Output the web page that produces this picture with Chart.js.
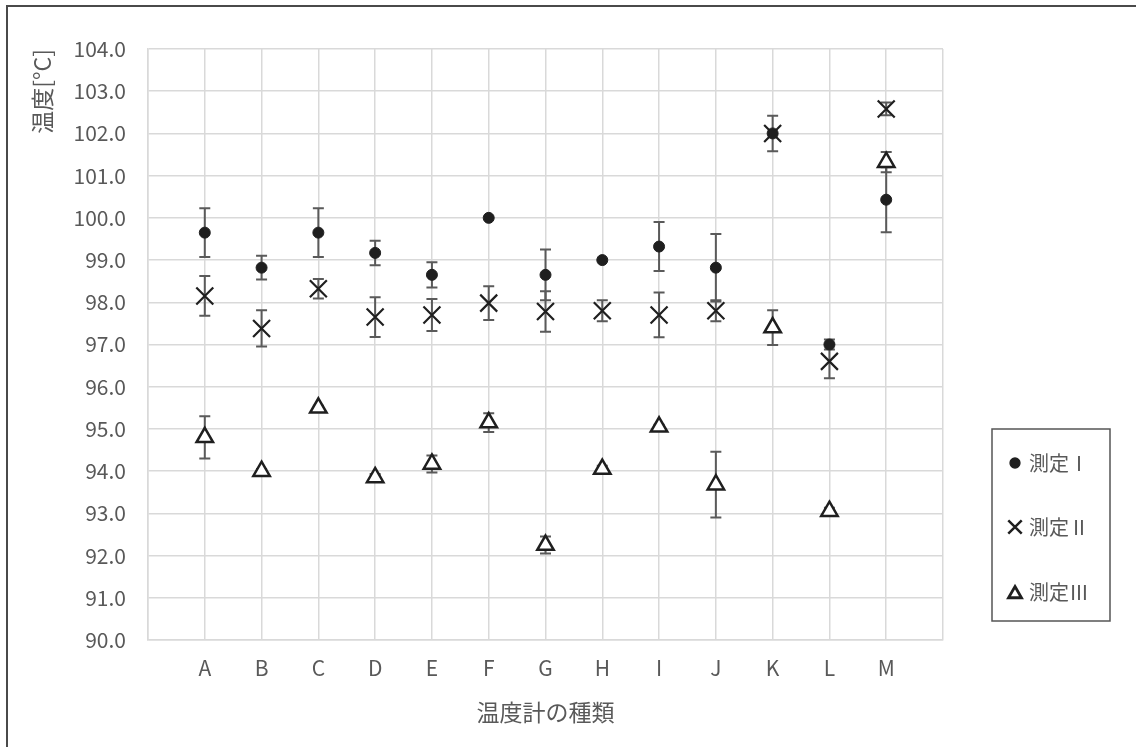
<!DOCTYPE html>
<html>
<head>
<meta charset="utf-8">
<script src="https://cdn.jsdelivr.net/npm/chart.js@4"></script>
<style>
  html, body { margin: 0; padding: 0; background: #fff; }
</style>
</head>
<body>
<canvas id="tempChart" width="1136" height="747"></canvas>
<script>
// 温度計の種類
const categories = ['A', 'B', 'C', 'D', 'E', 'F', 'G', 'H', 'I', 'J', 'K', 'L', 'M'];
const seriesLabels = ['測定Ⅰ', '測定Ⅱ', '測定Ⅲ'];

// 平均値
const measure1 = [99.65, 98.82, 99.65, 99.17, 98.65, 100.0, 98.65, 99.0, 99.32, 98.82, 102.0, 97.0, 100.43];
const measure2 = [98.15, 97.38, 98.32, 97.65, 97.70, 97.98, 97.78, 97.80, 97.70, 97.80, 102.0, 96.6, 102.58];
const measure3 = [94.8, 94.0, 95.5, 93.85, 94.17, 95.15, 92.25, 94.05, 95.05, 93.68, 97.4, 93.05, 101.32];

// 誤差 (±)
const err1 = [0.58, 0.28, 0.58, 0.29, 0.30, 0, 0.6, 0, 0.58, 0.8, 0, 0.12, 0.77];
const err2 = [0.47, 0.43, 0.23, 0.47, 0.38, 0.40, 0.48, 0.25, 0.53, 0.25, 0.42, 0.4, 0.15];
const err3 = [0.5, 0.05, 0.05, 0.08, 0.2, 0.22, 0.2, 0.08, 0.05, 0.78, 0.41, 0.08, 0.24];

const FONT = "'Noto Sans CJK JP', 'Noto Sans', sans-serif";
const GREY_TEXT = '#595959';
const MARK = '#1f1f1f';

function toPoints(values){
    return values.map((v, i) => ({x: i + 1, y: v}));
}

// frame lines of the original picture (top + left)
const framePlugin = {
    id: 'frame',
    beforeDraw(chart){
        const ctx = chart.ctx;
        ctx.save();
        ctx.strokeStyle = '#4a4a4a';
        ctx.lineWidth = 2;
        ctx.beginPath();
        ctx.moveTo(7, 747);
        ctx.lineTo(7, 6);
        ctx.lineTo(1136, 6);
        ctx.stroke();
        ctx.restore();
    }
};

// error bars, drawn through the y scale (under the markers)
const errorBarPlugin = {
    id: 'errorBars',
    beforeDatasetsDraw(chart){
        const ctx = chart.ctx;
        const yScale = chart.scales.y;
        ctx.save();
        ctx.strokeStyle = '#5a5a5a';
        ctx.lineWidth = 2;
        chart.data.datasets.forEach((ds, i) => {
            const meta = chart.getDatasetMeta(i);
            ds.errors.forEach((e, j) => {
                if (!e) return;
                const pt = meta.data[j];
                const v = ds.data[j].y;
                const yTop = yScale.getPixelForValue(v + e);
                const yBot = yScale.getPixelForValue(v - e);
                ctx.beginPath();
                ctx.moveTo(pt.x, yTop);
                ctx.lineTo(pt.x, yBot);
                ctx.moveTo(pt.x - 5.5, yTop);
                ctx.lineTo(pt.x + 5.5, yTop);
                ctx.moveTo(pt.x - 5.5, yBot);
                ctx.lineTo(pt.x + 5.5, yBot);
                ctx.stroke();
            });
        });
        ctx.restore();
    }
};

// boxed legend at the lower right
const boxLegendPlugin = {
    id: 'boxLegend',
    afterDraw(chart){
        const ctx = chart.ctx;
        const box = {left: 992, top: 429, right: 1110, bottom: 621};
        ctx.save();
        ctx.strokeStyle = '#555';
        ctx.lineWidth = 1.5;
        ctx.strokeRect(box.left, box.top, box.right - box.left, box.bottom - box.top);
        const rowY = [463, 527, 592];
        const legendRadius = {circle: 5, crossRot: 9.5, triangle: 7.5};
        chart.data.datasets.forEach((ds, i) => {
            const y = rowY[i];
            const x = 1015;
            ctx.strokeStyle = MARK;
            ctx.fillStyle = ds.pointBackgroundColor;
            ctx.lineWidth = ds.pointBorderWidth + 0.3;
            Chart.helpers.drawPoint(ctx, {
                pointStyle: ds.pointStyle,
                rotation: 0,
                radius: legendRadius[ds.pointStyle],
                borderWidth: ds.pointBorderWidth + 0.3
            }, x, ds.pointStyle === 'triangle' ? y + 2 : y);
            ctx.fillStyle = GREY_TEXT;
            ctx.font = '20px ' + FONT;
            ctx.textBaseline = 'middle';
            ctx.textAlign = 'left';
            ctx.fillText(ds.label, 1029, y);
        });
        ctx.restore();
    }
};

const ctx = document.getElementById('tempChart');
new Chart(ctx, {
    type: 'scatter',
    data: {
        datasets: [{
            label: seriesLabels[0],
            data: toPoints(measure1),
            errors: err1,
            pointStyle: 'circle',
            pointRadius: 5.5,
            pointBackgroundColor: MARK,
            pointBorderColor: MARK,
            pointBorderWidth: 1
        }, {
            label: seriesLabels[1],
            data: toPoints(measure2),
            errors: err2,
            pointStyle: 'crossRot',
            pointRadius: 12,
            pointBackgroundColor: MARK,
            pointBorderColor: MARK,
            pointBorderWidth: 2.2
        }, {
            label: seriesLabels[2],
            data: toPoints(measure3),
            errors: err3,
            pointStyle: 'triangle',
            pointRadius: 9.5,
            pointBackgroundColor: '#ffffff',
            pointBorderColor: MARK,
            pointBorderWidth: 2.5
        }]
    },
    options: {
        responsive: false,
        animation: false,
        layout: {
            padding: {left: 0, top: 49, right: 193, bottom: 0}
        },
        plugins: {
            legend: {display: false},
            tooltip: {enabled: false}
        },
        scales: {
            x: {
                type: 'linear',
                min: 0,
                max: categories.length + 1,
                afterFit: scale => { scale.height = 107; },
                afterBuildTicks: scale => {
                    scale.ticks = [];
                    for (let i = 0; i <= categories.length + 1; i++) scale.ticks.push({value: i});
                },
                ticks: {
                    autoSkip: false,
                    maxRotation: 0,
                    padding: 15,
                    color: GREY_TEXT,
                    font: {family: FONT, size: 21},
                    callback: v => categories[v - 1] || ''
                },
                grid: {color: '#d9d9d9', lineWidth: 1.5, drawTicks: false},
                border: {color: '#d9d9d9', width: 1.5},
                title: {
                    display: true,
                    text: '温度計の種類',
                    color: GREY_TEXT,
                    font: {family: FONT, size: 23},
                    padding: {top: 4, bottom: 21}
                }
            },
            y: {
                min: 90,
                max: 104,
                afterFit: scale => { scale.width = 148; },
                ticks: {
                    stepSize: 1,
                    padding: 22,
                    color: GREY_TEXT,
                    font: {family: FONT, size: 21},
                    callback: v => v.toFixed(1)
                },
                grid: {color: '#d9d9d9', lineWidth: 1.5, drawTicks: false},
                border: {color: '#d9d9d9', width: 1.5},
                title: {
                    display: true,
                    text: '温度[°C]',
                    align: 'end',
                    color: GREY_TEXT,
                    font: {family: FONT, size: 23},
                    padding: {top: 28, bottom: 0}
                }
            }
        }
    },
    plugins: [framePlugin, errorBarPlugin, boxLegendPlugin]
});
</script>
</body>
</html>
